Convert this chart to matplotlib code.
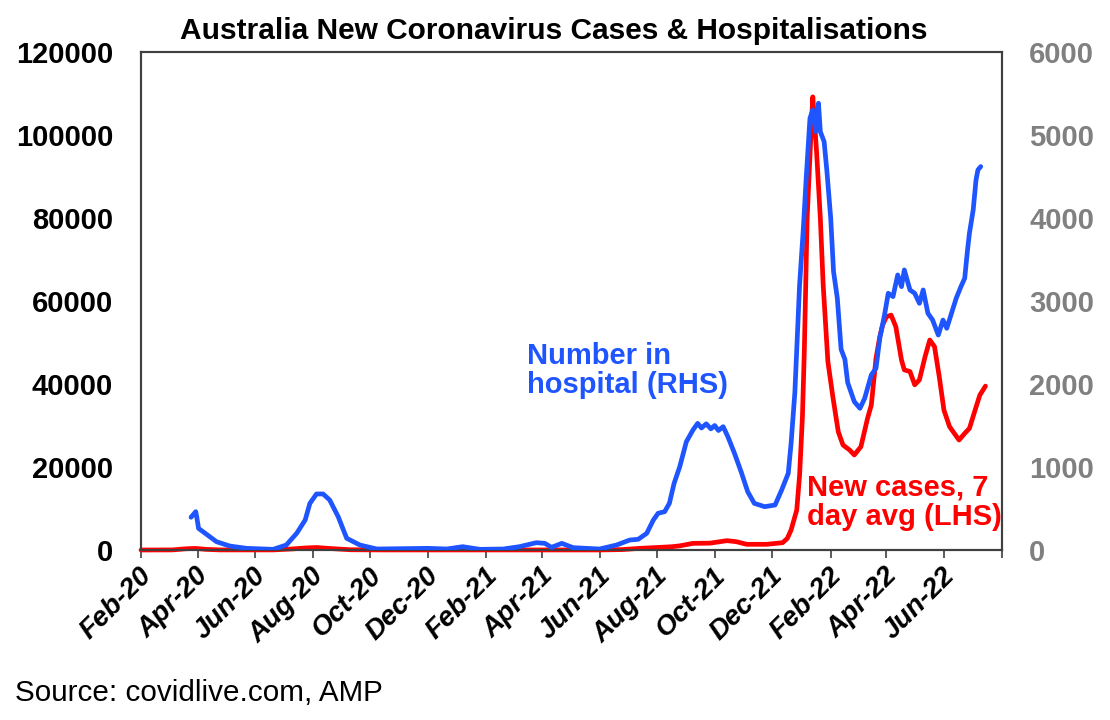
import matplotlib
matplotlib.use("Agg")
import matplotlib.pyplot as plt
import matplotlib.transforms as mtransforms
import pandas as pd

plt.rcParams['font.family'] = ['Liberation Sans', 'DejaVu Sans']

# ---- data ----
hosp_dates = ["2020-03-25", "2020-03-30", "2020-03-31", "2020-04-02", "2020-04-10", "2020-04-21",
              "2020-05-05", "2020-05-23", "2020-06-20", "2020-07-04", "2020-07-15", "2020-07-24",
              "2020-07-29", "2020-08-05", "2020-08-12", "2020-08-19", "2020-08-28", "2020-09-06",
              "2020-09-20", "2020-10-08", "2020-12-01", "2020-12-21", "2021-01-07", "2021-01-25",
              "2021-02-19", "2021-03-08", "2021-03-26", "2021-04-04", "2021-04-11", "2021-04-22",
              "2021-05-04", "2021-06-01", "2021-06-19", "2021-07-03", "2021-07-12", "2021-07-21",
              "2021-07-28", "2021-08-02", "2021-08-09", "2021-08-14", "2021-08-19", "2021-08-25",
              "2021-09-01", "2021-09-08", "2021-09-13", "2021-09-17", "2021-09-22", "2021-09-27",
              "2021-10-01", "2021-10-05", "2021-10-10",
              "2021-10-15", "2021-10-22", "2021-10-29", "2021-11-05", "2021-11-12", "2021-11-23",
              "2021-12-04", "2021-12-11", "2021-12-18", "2021-12-21", "2021-12-25", "2021-12-30",
              "2022-01-03", "2022-01-06", "2022-01-10", "2022-01-13", "2022-01-16", "2022-01-19",
              "2022-01-21", "2022-01-25", "2022-01-28", "2022-02-01", "2022-02-04", "2022-02-08",
              "2022-02-12", "2022-02-16", "2022-02-19", "2022-02-26", "2022-03-04", "2022-03-09",
              "2022-03-16", "2022-03-21", "2022-03-25", "2022-03-30", "2022-04-03", "2022-04-08",
              "2022-04-13", "2022-04-17", "2022-04-20", "2022-04-26", "2022-05-01", "2022-05-06",
              "2022-05-10", "2022-05-15", "2022-05-20", "2022-05-26", "2022-05-31", "2022-06-04",
              "2022-06-09", "2022-06-14", "2022-06-19", "2022-06-23", "2022-06-26", "2022-06-28",
              "2022-07-02", "2022-07-05", "2022-07-07", "2022-07-10"]
hosp_values = [394, 462, 402, 260, 193, 100,
               48, 20, 8, 60, 201, 361,
               562, 675, 675, 602, 401, 141,
               60, 12, 20, 12, 40, 8,
               12, 40, 88, 80, 32, 80,
               28, 12, 60, 120, 129, 201,
               361, 442, 462, 562, 803, 1004,
               1305, 1446, 1526, 1470, 1520, 1460,
               1500, 1440, 1486,
               1365, 1165, 944, 703, 562, 522,
               542, 723, 924, 1286, 1900, 3193,
               3876, 4479, 5202, 5302, 5040, 5383,
               5040, 4920, 4558, 3996, 3354, 3033,
               2418, 2298, 2016, 1787, 1707, 1828,
               2109, 2190, 2551, 2832, 3093, 3053,
               3314, 3173, 3374, 3133, 3093, 2972,
               3133, 2852, 2771, 2590, 2771, 2671,
               2852, 3033, 3173, 3274, 3615, 3816,
               4097, 4459, 4579, 4620]

case_dates = ["2020-02-01", "2020-03-05", "2020-03-20", "2020-03-30", "2020-04-10", "2020-04-25",
              "2020-06-20", "2020-07-10", "2020-07-25", "2020-08-05", "2020-08-20", "2020-09-10",
              "2020-10-15", "2021-06-01", "2021-06-25", "2021-07-14", "2021-08-01", "2021-08-17",
              "2021-08-25", "2021-09-08", "2021-09-26", "2021-10-14", "2021-10-24", "2021-11-04",
              "2021-11-25", "2021-12-12", "2021-12-17", "2021-12-21", "2021-12-27", "2021-12-30",
              "2022-01-02", "2022-01-04", "2022-01-07", "2022-01-11", "2022-01-13", "2022-01-17",
              "2022-01-21", "2022-01-24", "2022-01-29", "2022-02-03", "2022-02-09", "2022-02-14",
              "2022-02-21", "2022-02-26", "2022-03-05", "2022-03-12", "2022-03-16", "2022-03-21",
              "2022-03-25", "2022-03-28", "2022-04-01", "2022-04-06", "2022-04-11", "2022-04-17",
              "2022-04-20", "2022-04-26", "2022-05-01", "2022-05-06", "2022-05-12", "2022-05-17",
              "2022-05-22", "2022-05-27", "2022-06-01", "2022-06-07", "2022-06-12", "2022-06-17",
              "2022-06-23", "2022-06-28", "2022-07-04", "2022-07-09", "2022-07-15"]
case_values = [0, 20, 300, 380, 150, 20,
               20, 250, 500, 600, 350, 60,
               15, 10, 100, 400, 600, 800,
               1000, 1600, 1650, 2250, 2000, 1370,
               1370, 1760, 2800, 4820, 9640, 18000,
               32000, 47800, 79900, 100000, 109200, 96000,
               79900, 63900, 45400, 37300, 28500, 25300,
               24100, 22900, 24900, 31700, 34900, 46200,
               51400, 54200, 56200, 56600, 53800, 45800,
               43400, 43000, 39800, 41000, 46600, 50600,
               49000, 41800, 33700, 29700, 28100, 26500,
               28100, 29300, 33700, 37300, 39500]

tick_dates = pd.date_range("2020-02-01", "2022-08-01", freq="2MS")
tick_labels = [d.strftime("%b-%y") for d in tick_dates[:-1]] + [""]

title = "Australia New Coronavirus Cases & Hospitalisations"
source = "Source: covidlive.com, AMP"

BLUE = "#1f55ff"
RED = "#ff0000"
GREY = "#808080"

fig = plt.figure(figsize=(11.1, 7.2), dpi=100)
ax = fig.add_axes([141 / 1110, 1 - 550 / 720, (1001.5 - 141) / 1110, (550 - 52) / 720])
ax2 = ax.twinx()

ax.plot(pd.to_datetime(case_dates), case_values, color=RED, lw=3.4, clip_on=False,
        solid_joinstyle='round', solid_capstyle='round', zorder=3)
ax2.plot(pd.to_datetime(hosp_dates), hosp_values, color=BLUE, lw=3.4,
         solid_joinstyle='round', solid_capstyle='round', zorder=3)

ax.set_xlim(pd.Timestamp("2020-02-01"), pd.Timestamp("2022-08-01"))
ax.set_ylim(0, 120000)
ax2.set_ylim(0, 6000)
ax.set_yticks(range(0, 120001, 20000))
ax2.set_yticks(range(0, 6001, 1000))
ax.set_xticks(tick_dates)

ax.tick_params(axis='y', length=0, pad=20, labelsize=21, labelcolor='black')
ax2.tick_params(axis='y', length=0, pad=20, labelsize=21, labelcolor=GREY)
ax.tick_params(axis='x', direction='out', length=6, width=1.2, color='#404040', pad=10)
for lab in ax.get_yticklabels() + ax2.get_yticklabels():
    lab.set_fontweight('bold')

ax.set_xticklabels(tick_labels, rotation=45, ha='right', va='center',
                   rotation_mode='anchor', fontsize=20, fontweight='bold', style='italic')
offset = mtransforms.ScaledTranslation(7 / 100, 0, fig.dpi_scale_trans)
for tick in ax.xaxis.get_major_ticks():
    tick.label1.set_transform(tick.label1.get_transform() + offset)

for a in (ax, ax2):
    for s in a.spines.values():
        s.set_color('#404040')
        s.set_linewidth(1.5)
ax.spines['bottom'].set_color('black')

fig.text(554 / 1110, 1 - 31 / 720, title, ha='center', va='center', fontsize=21.5,
         fontweight='bold')
fig.text(15 / 1110, 1 - 693 / 720, source, ha='left', va='center', fontsize=21.3)

fig.text(527 / 1110, 1 - 342 / 720, "Number in\nhospital (RHS)", ha='left', va='top',
         fontsize=21, fontweight='bold', color=BLUE, linespacing=1.05)
fig.text(807 / 1110, 1 - 474 / 720, "New cases, 7\nday avg (LHS)", ha='left', va='top',
         fontsize=21, fontweight='bold', color=RED, linespacing=1.05, zorder=5)

fig.savefig("out.png", dpi=100)
